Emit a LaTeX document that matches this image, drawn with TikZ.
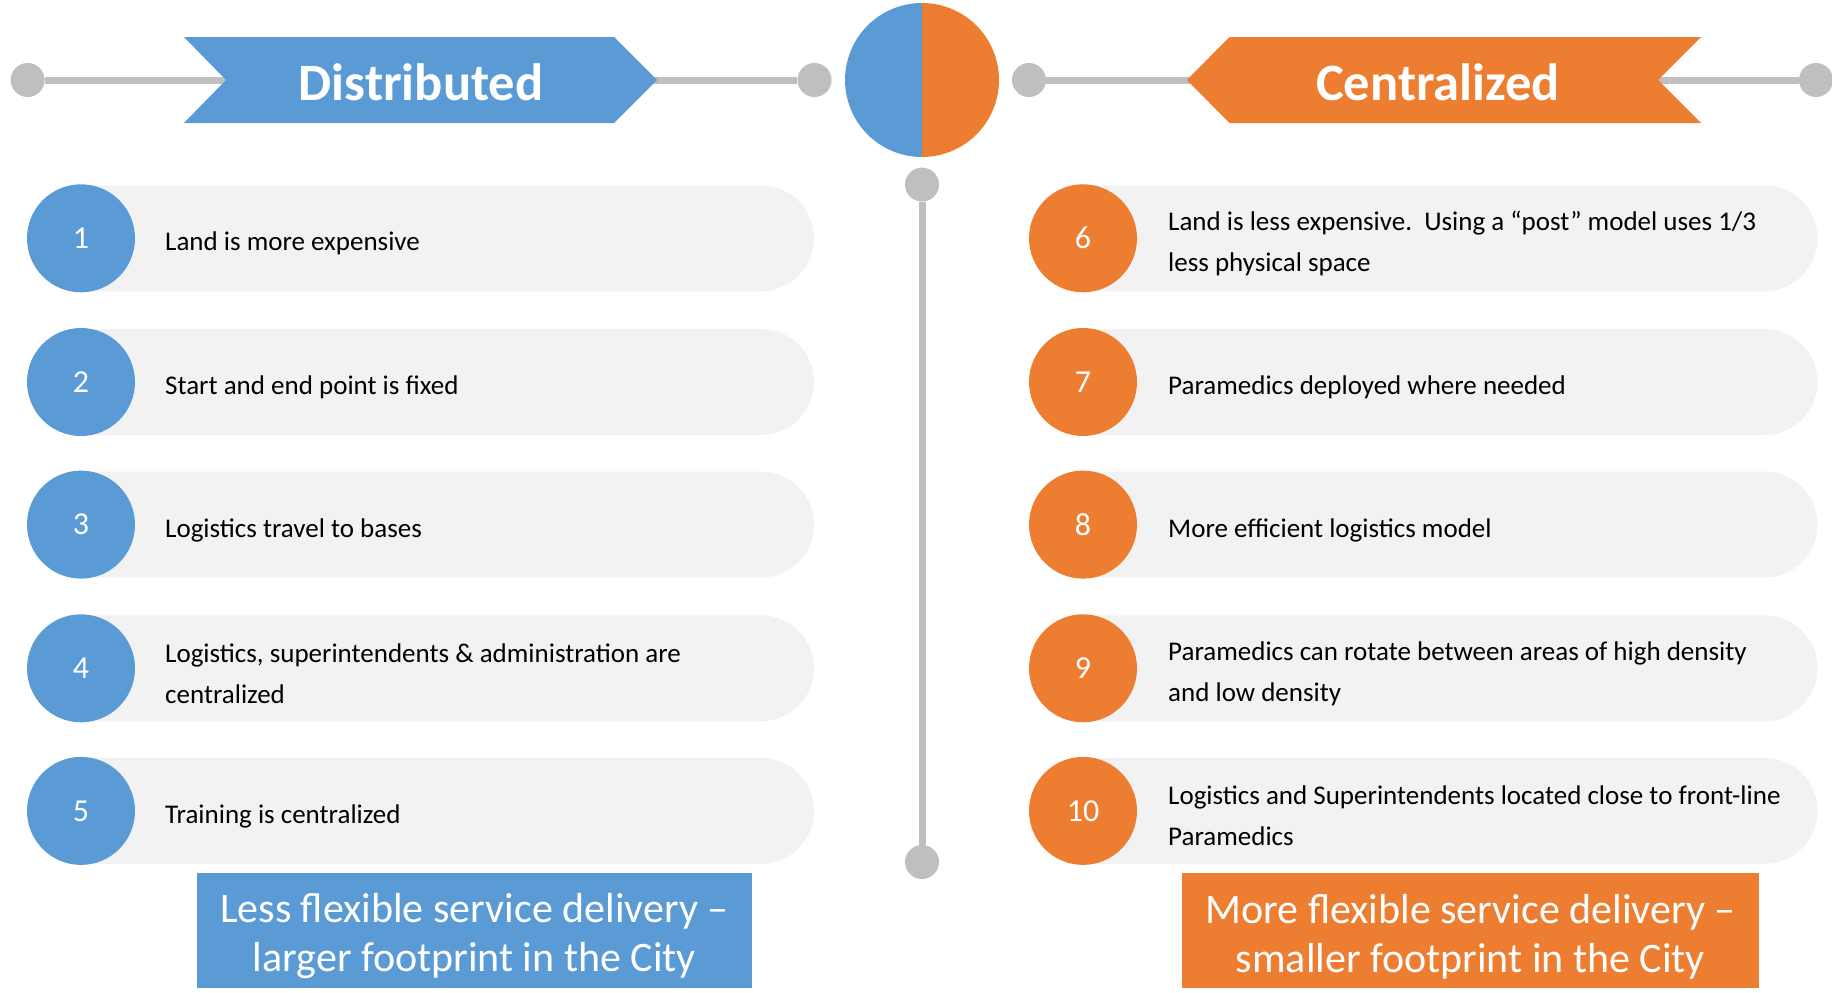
\documentclass[tikz,border=0pt]{standalone}
\usepackage{fontspec}
\setmainfont{Carlito}
\definecolor{cblue}{HTML}{5B9BD5}
\definecolor{corange}{HTML}{ED7D31}
\definecolor{cgrey}{HTML}{BFBFBF}
\definecolor{cpill}{HTML}{F2F2F2}
\begin{document}
\begin{tikzpicture}[x=1pt,y=-1pt,
  dot/.style={circle, fill=cgrey, minimum size=34pt, inner sep=0pt},
  conn/.style={cgrey, line width=7pt},
  numcirc/.style={circle, minimum size=108pt, inner sep=0pt, text=white, font=\fontsize{32}{34}\selectfont},
  itemtext/.style={anchor=west, align=left, inner sep=0pt, text=black, font=\fontsize{27}{41}\selectfont},
  titletext/.style={text=white, font=\fontsize{52.5}{54}\selectfont\bfseries},
  footbox/.style={text=white, align=center, inner sep=0pt, font=\fontsize{42}{49}\selectfont}
]
\useasboundingbox (0,0) rectangle (1832,993);

% header lines and dots
\node[dot] (dl1) at (27.6,80) {};
\node[dot] (dl2) at (814.5,80) {};
\node[dot] (dr1) at (1029,80) {};
\node[dot] (dr2) at (1816,80) {};
\draw[conn] (dl1) -- (dl2);
\draw[conn] (dr1) -- (dr2);

% chevrons
\fill[cblue] (184,37) -- (614,37) -- (657,80) -- (614,123) -- (184,123) -- (226,80) -- cycle;
\node[titletext] (tdist) at (421,82) {Distributed};
\fill[corange] (1229.5,37) -- (1701,37) -- (1658,80) -- (1701,123) -- (1229.5,123) -- (1187,80) -- cycle;
\node[titletext] (tcent) at (1438,82) {Centralized};

% central circle
\fill[cblue] (922,80) -- (922,3) arc(-90:-270:77) -- cycle;
\fill[corange] (922,80) -- (922,3) arc(-90:90:77) -- cycle;

% vertical line
\node[dot] (vt) at (922,184.6) {};
\node[dot] (vb) at (922,862) {};
\draw[conn] (vt) -- (vb);

% pills
\foreach \y in {238.3,382,524.6,668.3,810.9}{
  \fill[cpill] (81,\y-53) -- (761,\y-53) arc(-90:90:53) -- (81,\y+53) -- cycle;
  \fill[cpill] (1083,\y-53) -- (1764.5,\y-53) arc(-90:90:53) -- (1083,\y+53) -- cycle;
}

% left items
\node[numcirc, fill=cblue] (n1) at (81,238.3) {1};
\node[numcirc, fill=cblue] (n2) at (81,382) {2};
\node[numcirc, fill=cblue] (n3) at (81,524.6) {3};
\node[numcirc, fill=cblue] (n4) at (81,668.3) {4};
\node[numcirc, fill=cblue] (n5) at (81,810.9) {5};
\node[itemtext] (t1) at (165,243.5) {Land is more expensive};
\node[itemtext] (t2) at (165,387.5) {Start and end point is fixed};
\node[itemtext] (t3) at (165,530) {Logistics travel to bases};
\node[itemtext] (t4) at (165,673.5) {Logistics, superintendents \& administration are\\centralized};
\node[itemtext] (t5) at (165,816) {Training is centralized};

% right items
\node[numcirc, fill=corange] (n6) at (1083,238.3) {6};
\node[numcirc, fill=corange] (n7) at (1083,382) {7};
\node[numcirc, fill=corange] (n8) at (1083,524.6) {8};
\node[numcirc, fill=corange] (n9) at (1083,668.3) {9};
\node[numcirc, fill=corange] (n10) at (1083,810.9) {10};
\node[itemtext] (t6) at (1168,243.5) {Land is less expensive.\ \ Using a “post” model uses 1/3\\less physical space};
\node[itemtext] (t7) at (1168,387.5) {Paramedics deployed where needed};
\node[itemtext] (t8) at (1168,530) {More efficient logistics model};
\node[itemtext] (t9) at (1168,673.5) {Paramedics can rotate between areas of high density\\and low density};
\node[itemtext] (t10) at (1168,816) {Logistics and Superintendents located close to front-line\\Paramedics};

% footer boxes
\node[footbox, fill=cblue, minimum width=555pt, minimum height=115pt] (fl) at (474.3,930.4) {};
\node[footbox] (flt) at (474.3,936.5) {Less flexible service delivery –\\larger footprint in the City};
\node[footbox, fill=corange, minimum width=577pt, minimum height=115pt] (fr) at (1470.5,930.4) {};
\node[footbox] (frt) at (1470.5,936.5) {More flexible service delivery –\\smaller footprint in the City};
\end{tikzpicture}
\end{document}
